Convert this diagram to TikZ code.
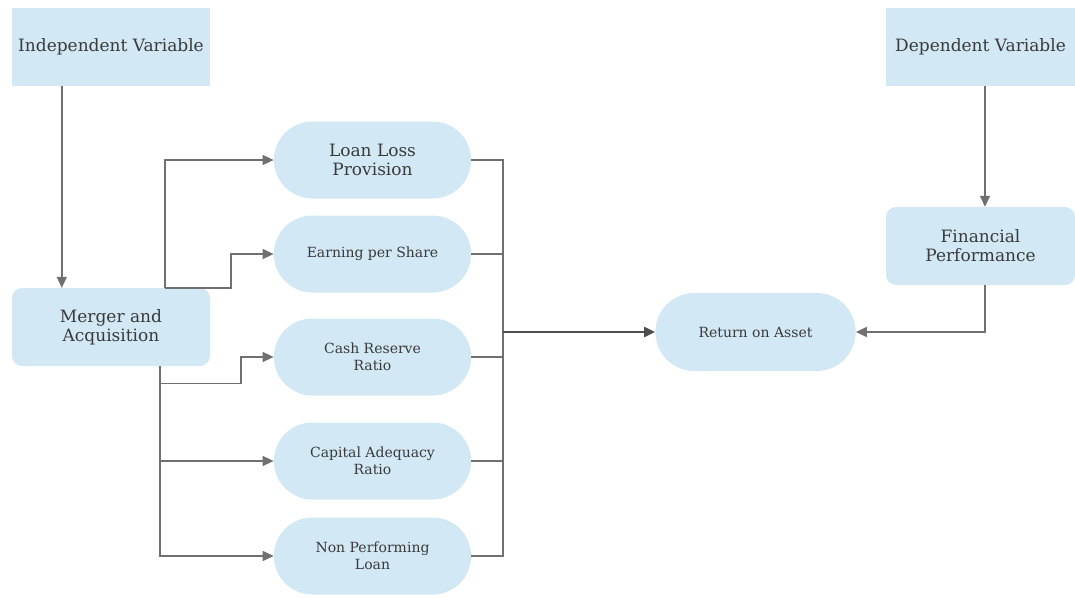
\documentclass[tikz,border=0pt]{standalone}
\usepackage{fontspec}
\setmainfont{DejaVu Serif}
\usetikzlibrary{shapes.misc,arrows.meta}
\definecolor{boxblue}{HTML}{D2E8F5}
\definecolor{linegray}{HTML}{707070}
\definecolor{textgray}{HTML}{3A3A3A}

\begin{document}
\begin{tikzpicture}[x=1pt,y=-1pt,
  varbox/.style={fill=boxblue, text=textgray, minimum width=198pt, minimum height=78pt, align=center, font=\fontsize{17}{19}\selectfont},
  roundbox/.style={varbox, rounded corners=10pt},
  pill/.style={rounded rectangle, fill=boxblue, text=textgray, minimum width=204pt, minimum height=77pt, align=center, font=\fontsize{17}{19}\selectfont},
  small/.style={font=\fontsize{14}{17}\selectfont},
  wire/.style={draw=linegray, line width=1.4pt},
  link/.style={wire, -{Triangle[length=11pt,width=10pt]}}]
\useasboundingbox (0,0) rectangle (1075,597);

\node[varbox] (indep) at (111,47) {Independent Variable};
\node[varbox, minimum width=189pt] (dep) at (980.5,47) {Dependent Variable};
\node[roundbox] (ma) at (111,327) {Merger and\\Acquisition};
\node[roundbox, minimum width=189pt] (fin) at (980.5,246) {Financial\\Performance};
\node[pill] (llp) at (372.5,160) {Loan Loss\\Provision};
\node[pill, small] (eps) at (372.5,254) {Earning per Share};
\node[pill, small] (crr) at (372.5,357) {Cash Reserve\\Ratio};
\node[pill, small] (car) at (372.5,461) {Capital Adequacy\\Ratio};
\node[pill, small] (npl) at (372.5,556) {Non Performing\\Loan};
\node[pill, small, minimum width=207pt, minimum height=78pt] (roa) at (755.5,332) {Return on Asset};
\coordinate (hub) at (503,332);

\draw[link] ([xshift=50pt]indep.south west) -- ([xshift=50pt]ma.north west);
\draw[link] ([xshift=153pt]ma.north west) |- (llp);
\draw[link] ([xshift=153pt]ma.north west) -- ++(66,0) |- (eps);
\draw[link] ([xshift=148pt]ma.south west) ++(0,17) -- ++(81,0) |- (crr);
\draw[link] ([xshift=148pt]ma.south west) |- (car);
\draw[link] ([xshift=148pt]ma.south west) |- (npl);

\draw[wire] (llp) -| (hub);
\draw[wire] (eps) -| (hub);
\draw[wire] (crr) -| (hub);
\draw[wire] (car) -| (hub);
\draw[wire] (npl) -| (hub);
\draw[link, line width=2pt, draw=textgray!90] (hub) -- (roa);

\draw[link] ([xshift=4.5pt]dep.south) -- ([xshift=4.5pt]fin.north);
\draw[link] ([xshift=4.5pt]fin.south) |- (roa);
\end{tikzpicture}
\end{document}
